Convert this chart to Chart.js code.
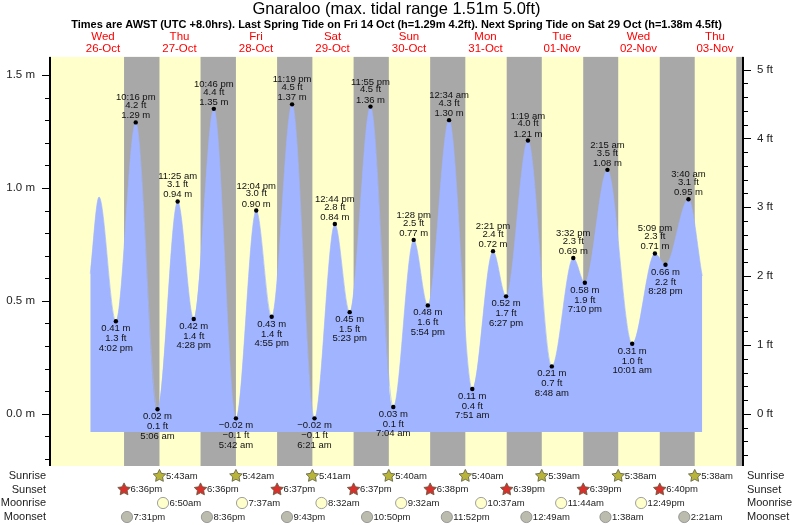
<!DOCTYPE html>
<html>
<head>
<meta charset="utf-8">
<script src="https://cdn.jsdelivr.net/npm/chart.js@4.4.1/dist/chart.umd.min.js"></script>
<style>
  html, body { margin: 0; padding: 0; background: #fff; }
  #wrap { width: 793px; height: 525px; }
</style>
</head>
<body>
<div id="wrap"><canvas id="tide" width="793" height="525"></canvas></div>
<script>
// ---- values (local time, AWST) ----
const dayNames = ['Wed', 'Thu', 'Fri', 'Sat', 'Sun', 'Mon', 'Tue', 'Wed', 'Thu'];
const dayDates = ['26-Oct', '27-Oct', '28-Oct', '29-Oct', '30-Oct', '31-Oct', '01-Nov', '02-Nov', '03-Nov'];

// labelled highs and lows
const tideTimes = [
  '2022-10-26T16:02', '2022-10-26T22:16',
  '2022-10-27T05:06', '2022-10-27T11:25', '2022-10-27T16:28', '2022-10-27T22:46',
  '2022-10-28T05:42', '2022-10-28T12:04', '2022-10-28T16:55', '2022-10-28T23:19',
  '2022-10-29T06:21', '2022-10-29T12:44', '2022-10-29T17:23', '2022-10-29T23:55',
  '2022-10-30T07:04', '2022-10-30T13:28', '2022-10-30T17:54',
  '2022-10-31T00:34', '2022-10-31T07:51', '2022-10-31T14:21', '2022-10-31T18:27',
  '2022-11-01T01:19', '2022-11-01T08:48', '2022-11-01T15:32', '2022-11-01T19:10',
  '2022-11-02T02:15', '2022-11-02T10:01', '2022-11-02T17:09', '2022-11-02T20:28',
  '2022-11-03T03:40'
];
const tideHeights = [
  0.41, 1.29,
  0.02, 0.94, 0.42, 1.35,
  -0.02, 0.90, 0.43, 1.37,
  -0.02, 0.84, 0.45, 1.36,
  0.03, 0.77, 0.48,
  1.30, 0.11, 0.72, 0.52,
  1.21, 0.21, 0.69, 0.58,
  1.08, 0.31, 0.71, 0.66,
  0.95
];
// unlabelled ends of the curve
const openTimes = ['2022-10-26T08:00', '2022-10-26T10:45'];
const openHeights = [0.62, 0.96];
const closeTimes = ['2022-11-03T08:00'];
const closeHeights = [0.61];

const sunriseTimes = ['2022-10-27T05:43', '2022-10-28T05:42', '2022-10-29T05:41', '2022-10-30T05:40',
  '2022-10-31T05:40', '2022-11-01T05:39', '2022-11-02T05:38', '2022-11-03T05:38'];
const sunsetTimes = ['2022-10-26T18:36', '2022-10-27T18:36', '2022-10-28T18:37', '2022-10-29T18:37',
  '2022-10-30T18:38', '2022-10-31T18:39', '2022-11-01T18:39', '2022-11-02T18:40'];
const lastDusk = '2022-11-03T18:40';
const moonriseTimes = ['2022-10-27T06:50', '2022-10-28T07:37', '2022-10-29T08:32', '2022-10-30T09:32',
  '2022-10-31T10:37', '2022-11-01T11:44', '2022-11-02T12:49'];
const moonsetTimes = ['2022-10-26T19:31', '2022-10-27T20:36', '2022-10-28T21:43', '2022-10-29T22:50',
  '2022-10-30T23:52', '2022-11-01T00:49', '2022-11-02T01:38', '2022-11-03T02:21'];

const titleText = 'Gnaraloo (max. tidal range 1.51m 5.0ft)';
const subtitleText = 'Times are AWST (UTC +8.0hrs). Last Spring Tide on Fri 14 Oct (h=1.29m 4.2ft). Next Spring Tide on Sat 29 Oct (h=1.38m 4.5ft)';

// ---- helpers ----
const T0 = Date.parse('2022-10-26T00:00:00Z');
const hrs = s => (Date.parse(s + ':00Z') - T0) / 3.6e6;
const M_PER_FT = 0.3048;
const FONT = '"Liberation Sans", Arial, Helvetica, sans-serif';

function clock(s, gap) {
  const h = +s.slice(11, 13), m = s.slice(14, 16);
  const h12 = h % 12 === 0 ? 12 : h % 12;
  return h12 + ':' + m + (gap ? ' ' : '') + (h < 12 ? 'am' : 'pm');
}
const signed = (v, d) => (v < 0 ? '\u2212' : '') + Math.abs(v).toFixed(d);
const onStep = (v, step) => Math.abs(v / step - Math.round(v / step)) < 1e-6;

const curve = openTimes.concat(tideTimes, closeTimes).map((t, i) => ({
  x: hrs(t),
  y: openHeights.concat(tideHeights, closeHeights)[i]
}));
const extremes = tideTimes.map((t, i) => ({ x: hrs(t), y: tideHeights[i] }));

// ---- plugins ----
const backdrop = {
  id: 'backdrop',
  beforeDatasetsDraw(chart) {
    const { ctx, chartArea: a, scales: { x } } = chart;
    ctx.save();
    ctx.fillStyle = '#ffffcc';
    ctx.fillRect(a.left, a.top, a.width, a.height);
    ctx.fillStyle = '#a8a8a8';
    sunsetTimes.concat(lastDusk).forEach((t, i) => {
      const x0 = x.getPixelForValue(hrs(t));
      const x1 = i < sunriseTimes.length ? x.getPixelForValue(hrs(sunriseTimes[i])) : a.right;
      ctx.fillRect(x0, a.top, Math.min(x1, a.right) - x0, a.height);
    });
    ctx.restore();
  }
};

const tideLabels = {
  id: 'tideLabels',
  afterDatasetsDraw(chart) {
    const { ctx } = chart;
    const pts = chart.getDatasetMeta(0).data;
    ctx.save();
    ctx.font = '9.5px ' + FONT;
    ctx.fillStyle = '#111';
    ctx.textAlign = 'center';
    ctx.textBaseline = 'middle';
    pts.forEach((p, i) => {
      const h = tideHeights[i];
      const prev = i > 0 ? tideHeights[i - 1] : openHeights[openHeights.length - 1];
      const t = clock(tideTimes[i], true);
      const f = signed(h / M_PER_FT, 1) + ' ft';
      const m = signed(h, 2) + ' m';
      if (h > prev) {
        ctx.fillText(t, p.x, p.y - 24.6);
        ctx.fillText(f, p.x, p.y - 16.8);
        ctx.fillText(m, p.x, p.y - 6.6);
      } else {
        ctx.fillText(m, p.x, p.y + 7.3);
        ctx.fillText(f, p.x, p.y + 17.3);
        ctx.fillText(t, p.x, p.y + 26.7);
      }
    });
    ctx.restore();
  }
};

function star(ctx, cx, cy, fill) {
  ctx.beginPath();
  for (let i = 0; i < 10; i++) {
    const ang = -Math.PI / 2 + i * Math.PI / 5;
    const r = i % 2 ? 3.3 : 6.6;
    ctx.lineTo(cx + r * Math.cos(ang), cy + r * Math.sin(ang));
  }
  ctx.closePath();
  ctx.fillStyle = fill;
  ctx.fill();
  ctx.strokeStyle = '#5a5a40';
  ctx.lineWidth = 0.8;
  ctx.stroke();
}
function disc(ctx, cx, cy, fill) {
  ctx.beginPath();
  ctx.arc(cx, cy, 5.6, 0, Math.PI * 2);
  ctx.fillStyle = fill;
  ctx.fill();
  ctx.strokeStyle = '#888';
  ctx.lineWidth = 0.8;
  ctx.stroke();
}

const frame = {
  id: 'frame',
  afterDraw(chart) {
    const { ctx, chartArea: a, scales: { x, y, y2 } } = chart;
    ctx.save();

    // axis lines, tick marks and tick labels
    ctx.fillStyle = '#000';
    ctx.fillRect(a.left - 1, a.top, 2, a.bottom - a.top);
    ctx.fillRect(a.right - 1, a.top, 2, a.bottom - a.top);
    ctx.strokeStyle = '#000';
    ctx.lineWidth = 1;
    ctx.beginPath();
    y.ticks.forEach(t => {
      const py = Math.round(y.getPixelForValue(t.value)) + 0.5;
      ctx.moveTo(a.left - (onStep(t.value, 0.5) ? 8 : 5), py);
      ctx.lineTo(a.left - 1, py);
    });
    y2.ticks.forEach(t => {
      const py = Math.round(y2.getPixelForValue(t.value)) + 0.5;
      ctx.moveTo(a.right + 1, py);
      ctx.lineTo(a.right + (onStep(t.value, 1) ? 8 : 5), py);
    });
    ctx.stroke();

    ctx.fillStyle = '#222';
    ctx.font = '11.5px ' + FONT;
    ctx.textBaseline = 'middle';
    ctx.textAlign = 'right';
    y.ticks.forEach(t => { if (t.label) ctx.fillText(t.label, a.left - 15, y.getPixelForValue(t.value)); });
    ctx.textAlign = 'left';
    y2.ticks.forEach(t => { if (t.label) ctx.fillText(t.label, a.right + 14, y2.getPixelForValue(t.value)); });

    // day headers
    ctx.fillStyle = '#ff0000';
    ctx.font = '11.5px ' + FONT;
    ctx.textAlign = 'center';
    dayNames.forEach((d, i) => {
      const px = x.getPixelForValue(hrs('2022-10-26T12:00') + 24 * i);
      ctx.fillText(d, px, 36.7);
      ctx.fillText(dayDates[i], px, 49.3);
    });

    // sun and moon rows
    const rows = [
      ['Sunrise', 476, sunriseTimes, (cx, cy) => star(ctx, cx, cy, '#b8b43a')],
      ['Sunset', 489.5, sunsetTimes, (cx, cy) => star(ctx, cx, cy, '#d8302a')],
      ['Moonrise', 503, moonriseTimes, (cx, cy) => disc(ctx, cx, cy, '#ffffcc')],
      ['Moonset', 517, moonsetTimes, (cx, cy) => disc(ctx, cx, cy, '#bcbcae')]
    ];
    rows.forEach(([name, ry, times, mark]) => {
      ctx.fillStyle = '#222';
      ctx.font = '11px ' + FONT;
      ctx.textAlign = 'right';
      ctx.fillText(name, a.left - 4, ry);
      ctx.textAlign = 'left';
      ctx.fillText(name, a.right + 4, ry);
      times.forEach(t => {
        const px = x.getPixelForValue(hrs(t));
        mark(px, ry);
        ctx.fillStyle = '#222';
        ctx.font = '9.5px ' + FONT;
        ctx.textAlign = 'left';
        ctx.fillText(clock(t, false), px + 6.5, ry);
      });
    });
    ctx.restore();
  }
};

// ---- chart ----
Chart.defaults.font.family = FONT;
const fillFloor = -0.08;
const yMin = -0.231, yMax = 1.58;

new Chart(document.getElementById('tide'), {
  data: {
    datasets: [
      {
        type: 'scatter', label: 'extremes', data: extremes, order: 0,
        pointRadius: 2.2, pointBackgroundColor: '#000', pointBorderWidth: 0
      },
      {
        type: 'line', label: 'tide', data: curve, order: 1,
        fill: { value: fillFloor }, backgroundColor: '#a0b4ff',
        borderColor: '#a0b4ff', borderWidth: 0.6, pointRadius: 0,
        cubicInterpolationMode: 'monotone'
      }
    ]
  },
  options: {
    responsive: false,
    animation: false,
    events: [],
    layout: { padding: { left: 0, right: 0, top: 0, bottom: 59 } },
    plugins: {
      legend: { display: false },
      tooltip: { enabled: false },
      title: {
        display: true, text: titleText, color: '#000', padding: 0,
        font: { size: 16.5, weight: 'normal', lineHeight: 1.1 }
      },
      subtitle: {
        display: true, text: subtitleText, color: '#000',
        padding: { top: 0, bottom: 25 },
        font: { size: 11, weight: 'bold', lineHeight: 1.25 }
      }
    },
    scales: {
      x: { type: 'linear', display: false, min: -4.63, max: 212.78 },
      y: {
        type: 'linear', position: 'left', min: yMin, max: yMax,
        grid: { display: false }, border: { display: false },
        ticks: {
          display: false, stepSize: 0.1, autoSkip: false, includeBounds: false,
          callback: v => onStep(v, 0.5) ? (Math.abs(v) < 1e-9 ? 0 : v).toFixed(1) + ' m' : ''
        },
        afterFit: s => { s.width = 50; }
      },
      y2: {
        type: 'linear', position: 'right', min: yMin / M_PER_FT, max: yMax / M_PER_FT,
        grid: { display: false }, border: { display: false },
        ticks: {
          display: false, stepSize: 0.2, autoSkip: false, includeBounds: false,
          callback: v => onStep(v, 1) ? Math.round(v) + ' ft' : ''
        },
        afterFit: s => { s.width = 50; }
      }
    }
  },
  plugins: [backdrop, tideLabels, frame]
});
</script>
</body>
</html>
